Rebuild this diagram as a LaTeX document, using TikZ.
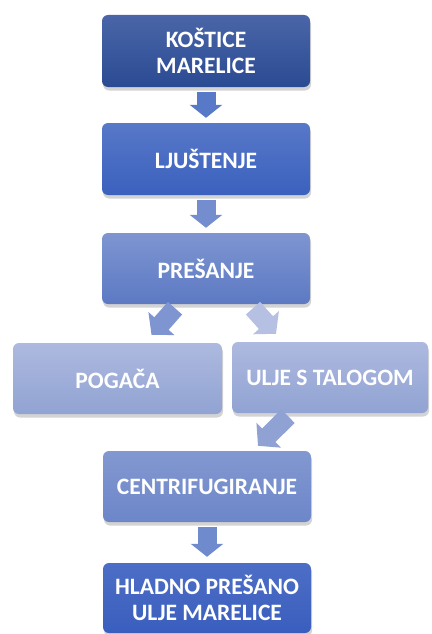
\documentclass[tikz,border=0pt]{standalone}
\usepackage{fontspec}
\setmainfont{Carlito}[BoldFont={Carlito Bold}]
\usetikzlibrary{arrows.meta,calc,shadows}
\begin{document}
\begin{tikzpicture}[x=1pt,y=-1pt,
  box/.style={rounded corners=6pt, minimum height=72pt, align=center,
    text=white, font=\bfseries\fontsize{23.5}{26}\selectfont, inner sep=0pt,
    drop shadow={opacity=0.35, shadow xshift=1pt, shadow yshift=-3.5pt}},
  barrow/.style={line width=19pt, -{Triangle[length=13pt,width=32pt]}},
  darrow/.style={line width=19pt, -{Triangle[length=15pt,width=34pt]}},
]
\useasboundingbox (0,0) rectangle (431,634);
\definecolor{c1t}{HTML}{4A66A8}\definecolor{c1b}{HTML}{2A4A92}
\definecolor{c2t}{HTML}{5878C8}\definecolor{c2b}{HTML}{3A61BE}
\definecolor{c3t}{HTML}{7E95D1}\definecolor{c3b}{HTML}{5C79C3}
\definecolor{c4t}{HTML}{ADB9DF}\definecolor{c4b}{HTML}{91A3D3}
\definecolor{c6t}{HTML}{8298D1}\definecolor{c6b}{HTML}{6D86C8}
\definecolor{c7t}{HTML}{4D6EC6}\definecolor{c7b}{HTML}{3A5EBE}

\node[box, minimum width=208pt, top color=c1t, bottom color=c1b] (b1) at (206,51) {KOŠTICE\\MARELICE};
\node[box, minimum width=208pt, top color=c2t, bottom color=c2b] (b2) at (206,159) {LJUŠTENJE};
\node[box, minimum width=208pt, minimum height=71pt, top color=c3t, bottom color=c3b] (b3) at (206,268.5) {PREŠANJE};
\node[box, minimum width=209pt, minimum height=71pt, top color=c4t, bottom color=c4b] (b4) at (117.5,378.5) {POGAČA};
\node[box, minimum width=196pt, minimum height=71pt, top color=c4t, bottom color=c4b] (b5) at (330,377.5) {ULJE S TALOGOM};
\node[box, minimum width=208pt, minimum height=71pt, top color=c6t, bottom color=c6b] (b6) at (207,486.5) {CENTRIFUGIRANJE};
\node[box, minimum width=208pt, minimum height=70pt, top color=c7t, bottom color=c7b] (b7) at (207,598) {HLADNO PREŠANO\\ULJE MARELICE};

\draw[barrow, color=c2b!85!white] ($(b1.south)+(0,5)$) -- ($(b2.north)+(0,-5)$);
\draw[barrow, color=c3t!85!c2b] ($(b2.south)+(0,5)$) -- ($(b3.north)+(0,-5)$);
\draw[darrow, color=c3t] ($(b3.south)+(-31,4)$) -- ($(b4.north)+(34,-8)$);
\draw[darrow, color=c4t!90!white] ($(b3.south)+(47,4)$) -- ($(b5.north)+(-54,-8)$);
\draw[darrow, color=c4b!90!c3t] ($(b5.south)+(-42,3)$) -- ($(b6.north)+(51,-5)$);
\draw[barrow, color=c3t!80!c2b] ($(b6.south)+(0,5)$) -- ($(b7.north)+(0,-6)$);
\end{tikzpicture}
\end{document}
